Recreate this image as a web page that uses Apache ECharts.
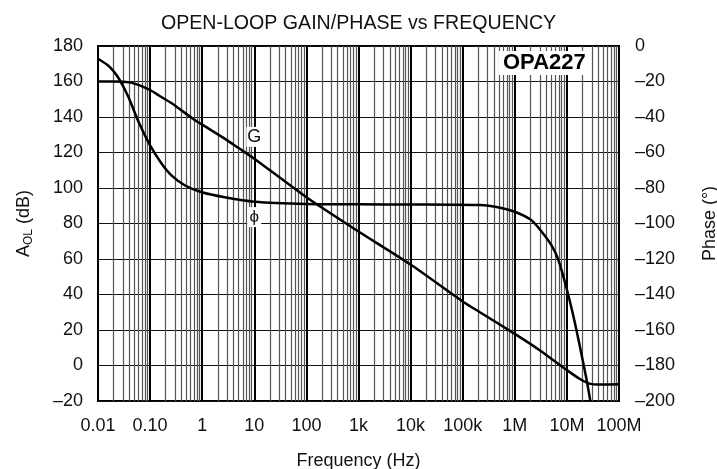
<!DOCTYPE html>
<html>
<head>
<meta charset="utf-8">
<script src="https://cdn.jsdelivr.net/npm/echarts@6/dist/echarts.min.js"></script>
<style>
    html, body { margin: 0; padding: 0; background: #fff; }
    #chart { width: 717px; height: 469px; }
</style>
</head>
<body>
<div id="chart"></div>
<script>
    // frequencies in Hz
    const gainFreq = [0.01, 0.02, 0.03, 0.04, 0.05, 0.07, 0.1, 0.15, 0.26, 0.45, 0.73, 1, 1.6, 2.7, 5, 10, 100, 1e3, 1e4, 1e5, 2.14e5, 1e6, 3e6, 1e7, 1.78e7, 2.7e7, 4e7, 1e8];
    const gainDb = [160, 160, 159.9, 159.5, 158.8, 157.3, 155.2, 152, 147.7, 142.6, 138.2, 135.7, 132, 127.8, 122.5, 116.5, 94.8, 75.5, 56.9, 36.1, 30, 17.8, 8.6, -2.6, -7.6, -10.2, -10.7, -10.6];

    const phaseFreq = [0.01, 0.015, 0.02, 0.026, 0.038, 0.06, 0.1, 0.167, 0.26, 0.47, 0.98, 2.7, 10, 100, 1e3, 1e4, 2.14e5, 5e5, 1e6, 2e6, 3e6, 5e6, 6.8e6, 1e7, 1.4e7, 1.78e7, 2.4e7, 2.8e7];
    const phaseDeg = [-7.2, -10.6, -14.3, -19.1, -28.5, -42.7, -56, -66.3, -73, -78.6, -82.4, -85.2, -87.7, -89, -89.2, -89.3, -89.6, -91, -93.4, -97.8, -103.2, -112, -120.2, -137.2, -155, -169.4, -188.3, -199.6];

    const decadeLabels = ['0.01', '0.10', '1', '10', '100', '1k', '10k', '100k', '1M', '10M', '100M'];
    const decades = [-2, -1, 0, 1, 2, 3, 4, 5, 6, 7];
    const minorSteps = [2, 3, 4, 5, 6, 7, 8, 9];

    const txt = '#111';
    const font = 'Liberation Sans';

    let minorLines = [];
    decades.forEach(d => {
        minorSteps.forEach(k => {
            minorLines.push({ xAxis: d + Math.log10(k) });
        });
    });

    function dash(v) {
        return v < 0 ? '\u2013' + Math.abs(v) : String(v);
    }

    const option = {
        animation: false,
        backgroundColor: '#fff',
        textStyle: { fontFamily: font },
        title: {
            text: 'OPEN-LOOP GAIN/PHASE vs FREQUENCY',
            left: 'center',
            top: 9,
            textStyle: { fontSize: 19.6, fontWeight: 'normal', color: txt, fontFamily: font }
        },
        grid: {
            left: 98,
            right: 98,
            top: 46,
            bottom: 68,
            outerBoundsMode: 'none',
            containLabel: false,
            show: true,
            borderColor: '#000',
            borderWidth: 2,
            backgroundColor: '#fff'
        },
        xAxis: {
            type: 'value',
            min: -2,
            max: 8,
            interval: 1,
            name: 'Frequency (Hz)',
            nameLocation: 'middle',
            nameGap: 51,
            nameTextStyle: { fontSize: 18, color: txt },
            axisLine: { show: false },
            axisTick: { show: false },
            axisLabel: {
                margin: 16,
                fontSize: 18,
                color: txt,
                formatter: v => decadeLabels[Math.round(v) + 2]
            },
            splitLine: { show: true, lineStyle: { color: '#000', width: 2 } }
        },
        yAxis: [
            {
                type: 'value',
                min: -20,
                max: 180,
                interval: 20,
                name: '{a|A}{s|OL}{a| (dB)}',
                nameLocation: 'middle',
                nameGap: 63,
                nameTextStyle: {
                    rich: {
                        a: { fontSize: 18, color: txt, lineHeight: 22 },
                        s: { fontSize: 12, color: txt, verticalAlign: 'bottom', lineHeight: 14 }
                    }
                },
                axisLine: { show: false },
                axisTick: { show: false },
                axisLabel: { margin: 15, fontSize: 18, color: txt, formatter: dash },
                splitLine: { show: true, lineStyle: { color: '#111', width: 1.2 } }
            },
            {
                type: 'value',
                min: -200,
                max: 0,
                interval: 20,
                position: 'right',
                name: 'Phase (\u00B0)',
                nameLocation: 'middle',
                nameGap: 82,
                nameTextStyle: { fontSize: 18, color: txt },
                axisLine: { show: false },
                axisTick: { show: false },
                axisLabel: { margin: 16, fontSize: 18, color: txt, formatter: dash },
                splitLine: { show: false }
            }
        ],
        graphic: [
            {
                type: 'text',
                left: 499,
                top: 51,
                z: 100,
                style: {
                    text: 'OPA227',
                    font: 'bold 22px "Liberation Sans"',
                    fill: '#000',
                    backgroundColor: '#fff',
                    padding: [1, 4, 1, 4]
                }
            }
        ],
        series: [
            {
                name: 'minor grid',
                type: 'line',
                data: [],
                z: 1,
                silent: true,
                markLine: {
                    silent: true,
                    symbol: ['none', 'none'],
                    label: { show: false },
                    lineStyle: { color: '#555', width: 1.2, type: 'solid' },
                    data: minorLines
                }
            },
            {
                name: 'G',
                type: 'line',
                data: gainFreq.map((f, i) => [Math.log10(f), gainDb[i]]),
                showSymbol: false,
                smooth: 0.2,
                z: 5,
                lineStyle: { color: '#000', width: 2.5 },
                markPoint: {
                    silent: true,
                    data: [{
                        coord: [1, 128.8],
                        symbol: 'rect',
                        symbolSize: [16, 20],
                        itemStyle: { color: '#fff' },
                        label: { show: true, position: 'inside', formatter: 'G', fontSize: 18, color: txt }
                    }]
                }
            },
            {
                name: 'phase',
                type: 'line',
                yAxisIndex: 1,
                data: phaseFreq.map((f, i) => [Math.log10(f), phaseDeg[i]]),
                showSymbol: false,
                smooth: 0.2,
                z: 5,
                lineStyle: { color: '#000', width: 2.5 },
                markPoint: {
                    silent: true,
                    data: [{
                        coord: [1, -96.4],
                        symbol: 'rect',
                        symbolSize: [14, 20],
                        itemStyle: { color: '#fff' },
                        label: { show: true, position: 'inside', formatter: '\u03D5', fontSize: 17, color: txt }
                    }]
                }
            }
        ]
    };

    let myChart = echarts.init(document.getElementById('chart'));
    myChart.setOption(option);
</script>
</body>
</html>
